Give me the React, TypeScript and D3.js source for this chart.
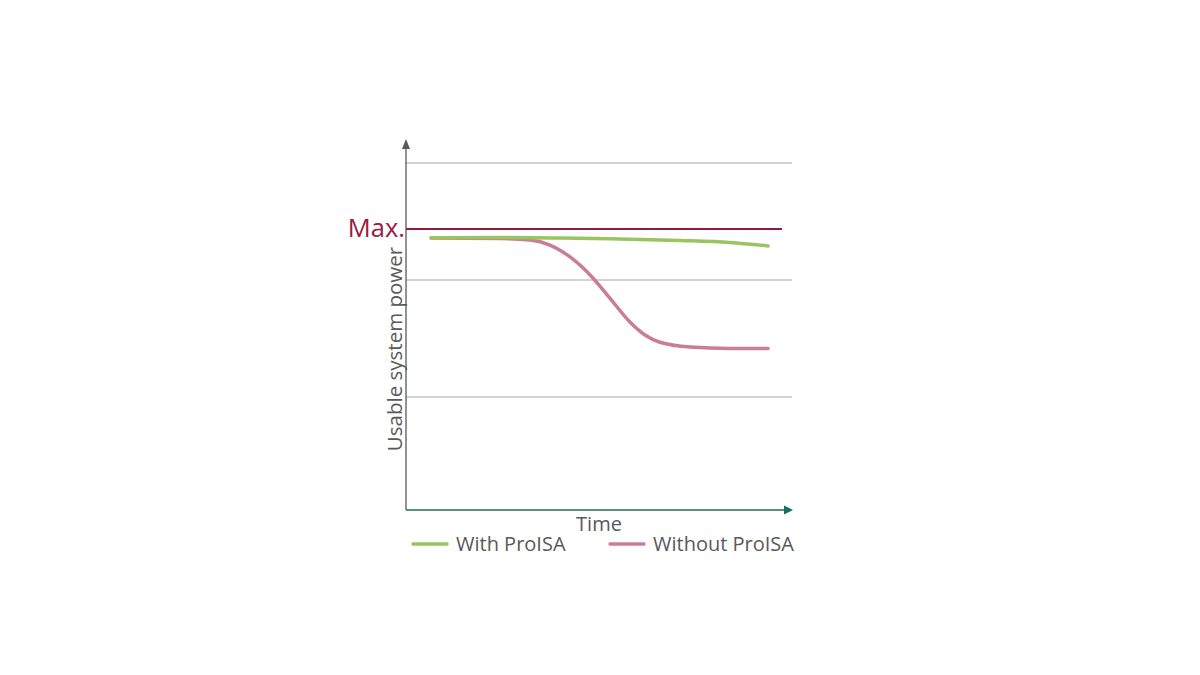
import React from 'react';
import * as d3 from 'd3';

// time position (0..100) and usable power (grid units)
const withX = [6.5, 24.4, 39.9, 55.4, 71.0, 83.9, 93.8];
const withY = [2.359, 2.363, 2.359, 2.350, 2.338, 2.321, 2.291];

const withoutX = [6.5, 24.4, 32.1, 37.3, 42.5, 47.7, 52.8, 58.0, 61.9, 65.8, 73.6, 83.9, 93.8];
const withoutY = [2.359, 2.355, 2.342, 2.299, 2.197, 2.043, 1.846, 1.641, 1.530, 1.468, 1.427, 1.415, 1.415];

const gridValues = [1, 2, 3];
const maxValue = 2.436;
const legendLabels = ['With ProISA', 'Without ProISA'];
const seriesColors = ['#9BC35F', '#C97D99'];

const FONT = '"Segoe UI", "Open Sans", "Noto Sans", sans-serif';

const App: React.FC = () => {
  const width = 1200;
  const height = 675;

  const x = d3.scaleLinear().domain([0, 100]).range([406, 792]);
  const y = d3.scaleLinear().domain([0, 3]).range([514, 163]);

  const line = d3.line<[number, number]>()
    .x(d => x(d[0]))
    .y(d => y(d[1]))
    .curve(d3.curveMonotoneX);

  const withData = withX.map((v, i) => [v, withY[i]] as [number, number]);
  const withoutData = withoutX.map((v, i) => [v, withoutY[i]] as [number, number]);

  const x0 = x(0);
  const axisY = 510;

  return (
    <svg width={width} height={height} style={{ position: 'absolute', left: 0, top: 0 }}>
      <rect width={width} height={height} fill="white" />

      {gridValues.map(v => (
        <line key={v} x1={x0} x2={x(100)} y1={y(v)} y2={y(v)} stroke="#A6A6A6" strokeWidth={1} />
      ))}

      {/* max line */}
      <line x1={x0} x2={x(97.4)} y1={y(maxValue)} y2={y(maxValue)} stroke="#8C1D40" strokeWidth={1.8} />
      <text x={x0 - 1} y={y(maxValue) + 8} textAnchor="end" fontFamily={FONT} fontSize={25.5} fill="#9B1B41">Max.</text>

      {/* axes */}
      <line x1={x0} x2={x0} y1={axisY} y2={148} stroke="#595959" strokeWidth={1.3} />
      <path d={`M${x0 - 4},${149} L${x0},${139} L${x0 + 4},${149} Z`} fill="#595959" />
      <line x1={x0} x2={785} y1={axisY} y2={axisY} stroke="#17705E" strokeWidth={1.3} />
      <path d={`M${784},${axisY - 4.5} L${793},${axisY} L${784},${axisY + 4.5} Z`} fill="#17705E" />

      <path d={line(withoutData) || ''} fill="none" stroke={seriesColors[1]} strokeWidth={3.5} strokeLinecap="round" />
      <path d={line(withData) || ''} fill="none" stroke={seriesColors[0]} strokeWidth={3.5} strokeLinecap="round" />

      <text
        transform={`translate(402,349) rotate(-90)`}
        textAnchor="middle"
        fontFamily={FONT}
        fontSize={20.5}
        fill="#595959"
      >Usable system power</text>
      <text x={599} y={531} textAnchor="middle" fontFamily={FONT} fontSize={20} fill="#595959">Time</text>

      {/* legend */}
      {legendLabels.map((label, i) => {
        const lx = i === 0 ? 413 : 610;
        return (
          <g key={label}>
            <line x1={lx} x2={lx + 34} y1={544} y2={544} stroke={seriesColors[i]} strokeWidth={3.5} strokeLinecap="round" />
            <text x={lx + 43} y={551} fontFamily={FONT} fontSize={20} fill="#595959">{label}</text>
          </g>
        );
      })}
    </svg>
  );
};

export default App;
